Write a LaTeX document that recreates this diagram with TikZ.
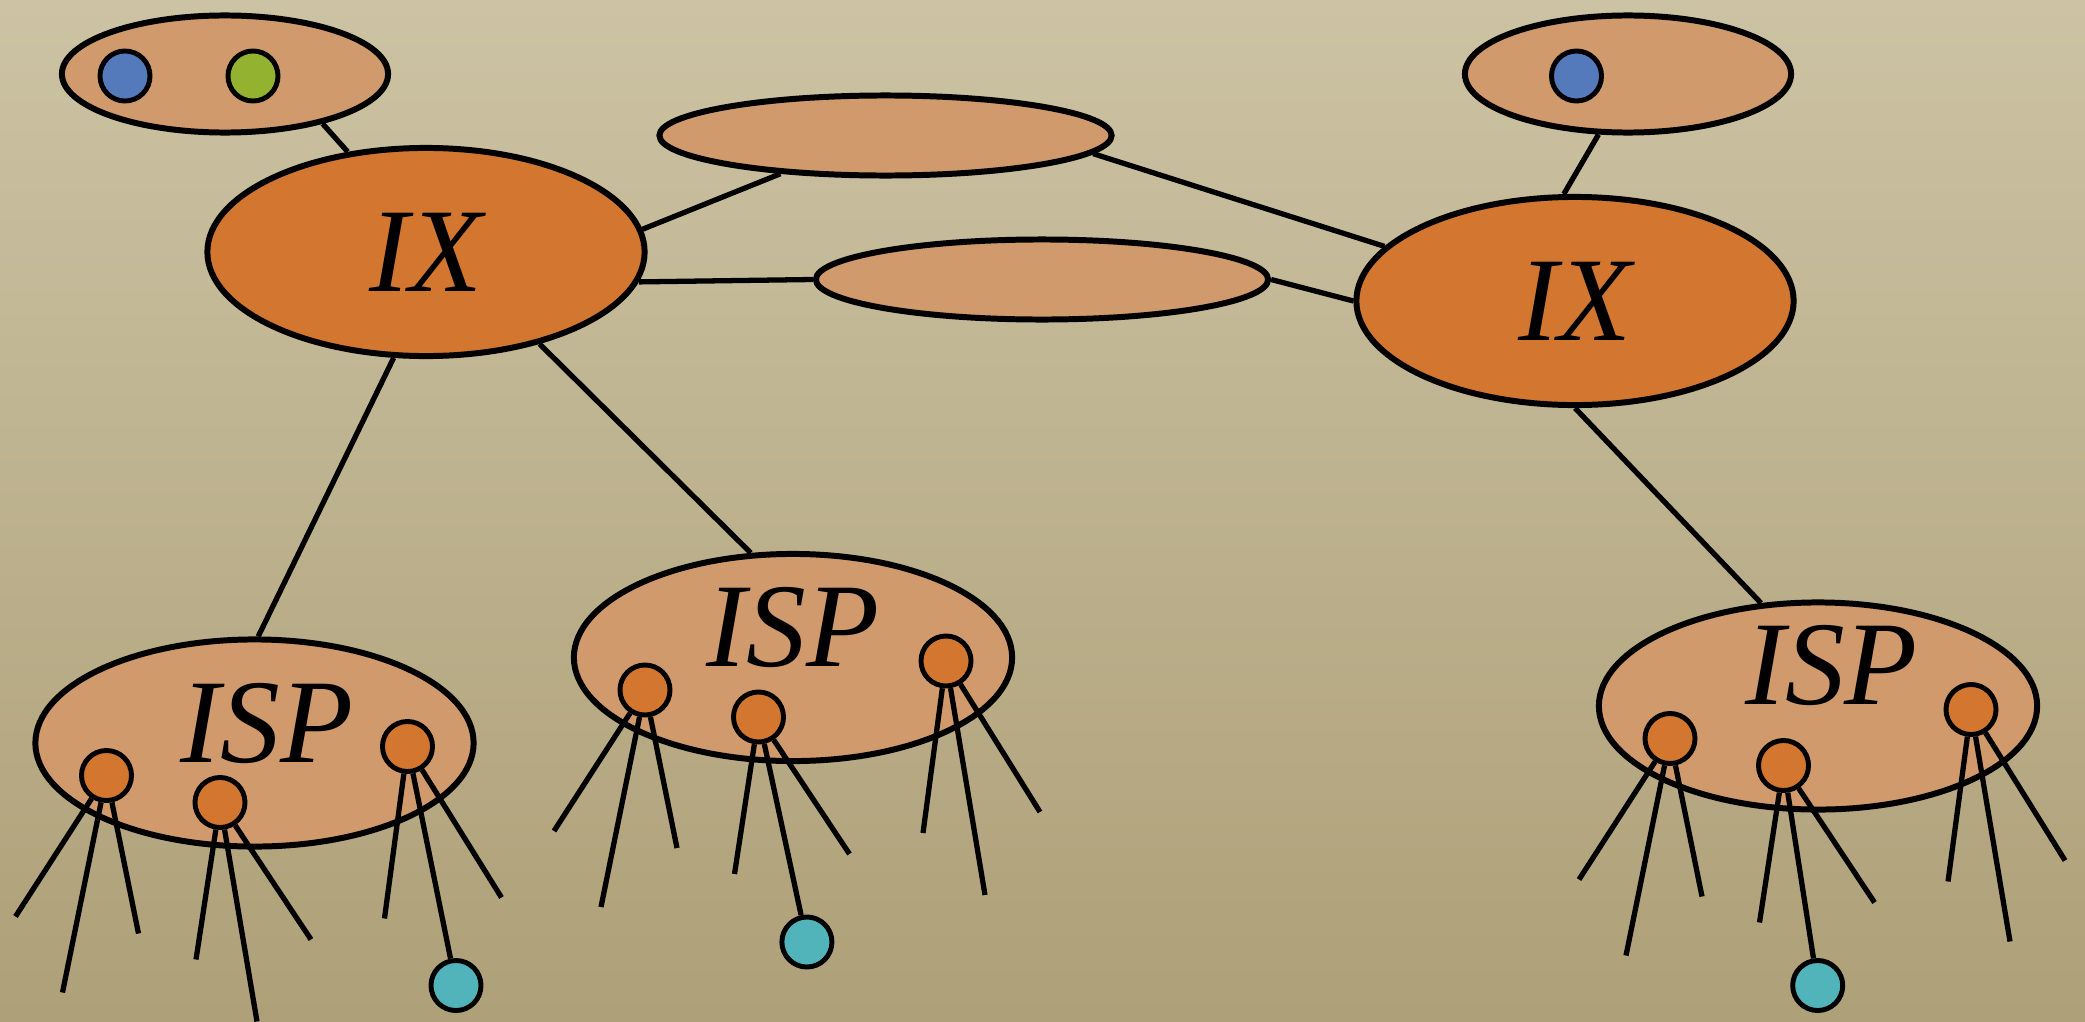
\documentclass[tikz,border=0pt]{standalone}
\usepackage{fontspec}
\setmainfont{Liberation Serif}
\usetikzlibrary{shapes.geometric}
\definecolor{bgtop}{RGB}{204,195,164}
\definecolor{bgbot}{RGB}{174,160,120}
\definecolor{ixfill}{RGB}{210,118,48}
\definecolor{ispfill}{RGB}{208,154,108}
\definecolor{hostblue}{RGB}{84,122,188}
\definecolor{hostgreen}{RGB}{146,178,48}
\definecolor{hostcyan}{RGB}{80,180,186}
\begin{document}
\begin{tikzpicture}[x=0.01cm,y=-0.01cm,
    blob/.style={ellipse,draw,line width=1.7pt,fill=ispfill,inner sep=0pt},
    ixblob/.style={blob,fill=ixfill,minimum width=4.37cm,minimum height=2.08cm},
    ispblob/.style={blob,minimum width=4.38cm,minimum height=2.07cm},
    linkblob/.style={blob,minimum width=4.52cm,minimum height=0.8cm},
    userblob/.style={blob,minimum width=3.26cm,minimum height=1.17cm},
    host/.style={circle,draw,line width=1.4pt,inner sep=0pt,minimum size=0.5cm},
    bigtxt/.style={font=\fontsize{34}{34}\selectfont\itshape,inner sep=0pt},
    wire/.style={line width=1.5pt}]
    \shade[top color=bgtop,bottom color=bgbot] (0,0) rectangle (2085,1021);
    \useasboundingbox (0,0) rectangle (2085,1021);

    \node[userblob] (usersl) at (225,74) {};
    \node[host,fill=hostblue] (userl1) at (125,76) {};
    \node[host,fill=hostgreen] (userl2) at (253,76) {};
    \node[userblob] (usersr) at (1628,74) {};
    \node[host,fill=hostblue] (userr1) at (1576.5,76) {};

    \node[ixblob,bigtxt] (ixl) at (426,252) {IX};
    \node[ixblob,bigtxt] (ixr) at (1575,301) {IX};
    \node[linkblob] (linktop) at (885.5,135.5) {};
    \node[linkblob] (linkmid) at (1042,279.5) {};

    \node[ispblob] (lisp) at (254.5,743) {};
    \node[ispblob] (misp) at (793,657.5) {};
    \node[ispblob] (risp) at (1818,706) {};
    \node[bigtxt] (lispt) at ([shift={(12.5,-20)}]lisp) {ISP};
    \node[bigtxt] (mispt) at ([shift={(0,-30)}]misp) {ISP};
    \node[bigtxt] (rispt) at ([shift={(13.6,-41)}]risp) {ISP};

    \draw[wire] (usersl.-27) -- (ixl.128);
    \draw[wire] (usersr.244) -- (ixr.96);
    \draw[wire] (ixl.6) -- (linktop.200);
    \draw[wire] (linktop.-5) -- (ixr.164);
    \draw[wire] (ixl.-8) -- (linkmid.west);
    \draw[wire] (linkmid.east) -- (ixr.west);
    \draw[wire] (ixl.253) -- (lisp.88);
    \draw[wire] (ixl.-39) -- (misp.112);
    \draw[wire] (ixr.south) -- (risp.119);

    \foreach \isp in {lisp,misp,risp} {
        \node[host,fill=ixfill] (\isp1) at ([shift={(-148,32.5)}]\isp) {};
        \node[host,fill=ixfill] (\isp2) at ([shift={(-34.5,59.5)}]\isp) {};
        \node[host,fill=ixfill] (\isp3) at ([shift={(153,3.5)}]\isp) {};
        \foreach \d/\k/\dx/\dy in {1/a/-91/141,1/b/-44/217,1/c/32/158,
                2/a/-24/157,2/c/91/137,3/a/-23/172,3/c/94/151} {
            \coordinate (\isp\d\k) at ([shift={(\dx,\dy)}]\isp\d);
            \draw[wire] (\isp\d) -- (\isp\d\k);
        }
    }

    \coordinate (lisp2b) at ([shift={(37,219)}]lisp2);
    \coordinate (misp3b) at ([shift={(39,234)}]misp3);
    \coordinate (risp3b) at ([shift={(39,232)}]risp3);
    \draw[wire] (lisp2) -- (lisp2b);
    \draw[wire] (misp3) -- (misp3b);
    \draw[wire] (risp3) -- (risp3b);

    \node[host,fill=hostcyan] (lcy) at ([shift={(48.5,239)}]lisp3) {};
    \node[host,fill=hostcyan] (mcy) at ([shift={(48.4,225)}]misp2) {};
    \node[host,fill=hostcyan] (rcy) at ([shift={(34.2,220)}]risp2) {};
    \draw[wire] (lisp3) -- (lcy);
    \draw[wire] (misp2) -- (mcy);
    \draw[wire] (risp2) -- (rcy);
\end{tikzpicture}
\end{document}
